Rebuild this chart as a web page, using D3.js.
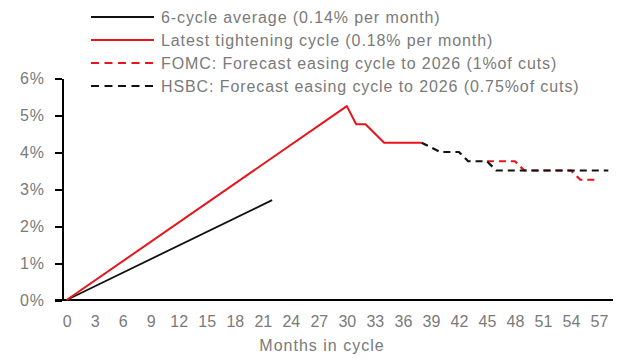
<!DOCTYPE html>
<meta charset="utf-8">
<style>
body {
  margin: 0;
  background-color: #ffffff;
}
.axis text {
  font-family: "Liberation Sans", Arial, sans-serif;
  font-size: 16px;
  fill: #7a7a7a;
}
.y.axis text {
  letter-spacing: 1px;
}
.axis path,
.axis line {
  stroke: #000;
  stroke-width: 2px;
  shape-rendering: crispEdges;
}
.legend text {
  font-family: "Liberation Sans", Arial, sans-serif;
  font-size: 16px;
  letter-spacing: 0.9px;
  fill: #7a7a7a;
}
.line {
  fill: none;
  stroke-linejoin: round;
}
</style>
<svg width="638" height="363"></svg>
<script src="https://d3js.org/d3.v7.min.js"></script>
<script>
// months 0..58 on a category axis, labelled every 3rd
var months = d3.range(0, 59);
var monthTicks = d3.range(0, 58, 3);
var yTicks = [0, 1, 2, 3, 4, 5, 6];

// 6-cycle average
var avgMonths = [0, 22];
var avgValues = [0, 2.70];

// latest tightening cycle
var tightMonths = [0, 30, 31, 32, 34, 38];
var tightValues = [0, 5.24, 4.75, 4.75, 4.25, 4.25];

// FOMC forecast (only where it departs from HSBC)
var fomcMonths = [45, 48, 49, 54, 55, 57];
var fomcValues = [3.75, 3.75, 3.5, 3.5, 3.25, 3.25];

// HSBC forecast
var hsbcMonths = [38, 40, 42, 43, 45, 46, 58];
var hsbcValues = [4.25, 4.0, 4.0, 3.75, 3.75, 3.5, 3.5];

var legendNames = [
  "6-cycle average (0.14% per month)",
  "Latest tightening cycle (0.18% per month)",
  "FOMC: Forecast easing cycle to 2026 (1%of cuts)",
  "HSBC: Forecast easing cycle to 2026 (0.75%of cuts)"
];

var red = "#e8141c", black = "#111";

var svg = d3.select("svg"),
    margin = {top: 78, right: 25, bottom: 63, left: 62},
    width = +svg.attr("width") - margin.left - margin.right,
    height = +svg.attr("height") - margin.top - margin.bottom;

var x = d3.scalePoint().domain(months).range([0, width]).padding(0.5);
var y = d3.scaleLinear().domain([0, 6]).range([height, 0]);

var g = svg.append("g")
    .attr("transform", "translate(" + margin.left + "," + margin.top + ")");

g.append("g")
    .attr("class", "x axis")
    .attr("transform", "translate(0," + height + ")")
    .call(d3.axisBottom(x).tickValues(monthTicks).tickSize(0).tickPadding(16))
    .call(function(a) { a.select(".domain").attr("d", "M-7,0H" + width); });

g.append("g")
    .attr("class", "y axis")
    .call(d3.axisLeft(y).tickValues(yTicks).tickFormat(function(d) { return d + "%"; })
      .tickSize(7).tickPadding(10).tickSizeOuter(0));

g.append("text")
    .attr("x", 260)
    .attr("y", 273)
    .attr("text-anchor", "middle")
    .style("font-family", "Liberation Sans, Arial, sans-serif")
    .style("font-size", "16px")
    .style("letter-spacing", "1px")
    .style("fill", "#7a7a7a")
    .text("Months in cycle");

var line = d3.line()
    .x(function(d) { return x(d[0]); })
    .y(function(d) { return y(d[1]); });

function drawSeries(ms, vs, color, dash, w) {
  g.append("path")
      .datum(d3.zip(ms, vs))
      .attr("class", "line")
      .attr("d", line)
      .attr("stroke", color)
      .attr("stroke-width", w)
      .attr("stroke-dasharray", dash);
}

drawSeries(avgMonths, avgValues, black, null, 1.8);
drawSeries(tightMonths, tightValues, red, null, 2);
drawSeries(fomcMonths, fomcValues, red, "7,5", 2.2);
drawSeries(hsbcMonths, hsbcValues, black, "7,5", 2.2);

var legend = svg.append("g").attr("class", "legend");
var legendStyles = [
  {color: black, dash: null},
  {color: red, dash: null},
  {color: red, dash: "8,5.5"},
  {color: black, dash: "8,5.5"}
];
legendNames.forEach(function(name, i) {
  var cy = 17 + i * 23;
  legend.append("line")
      .attr("x1", 91).attr("x2", 154)
      .attr("y1", cy).attr("y2", cy)
      .attr("stroke", legendStyles[i].color)
      .attr("stroke-width", 2)
      .attr("stroke-dasharray", legendStyles[i].dash);
  legend.append("text")
      .attr("x", 161)
      .attr("y", cy)
      .attr("dy", "0.36em")
      .text(name);
});
</script>
